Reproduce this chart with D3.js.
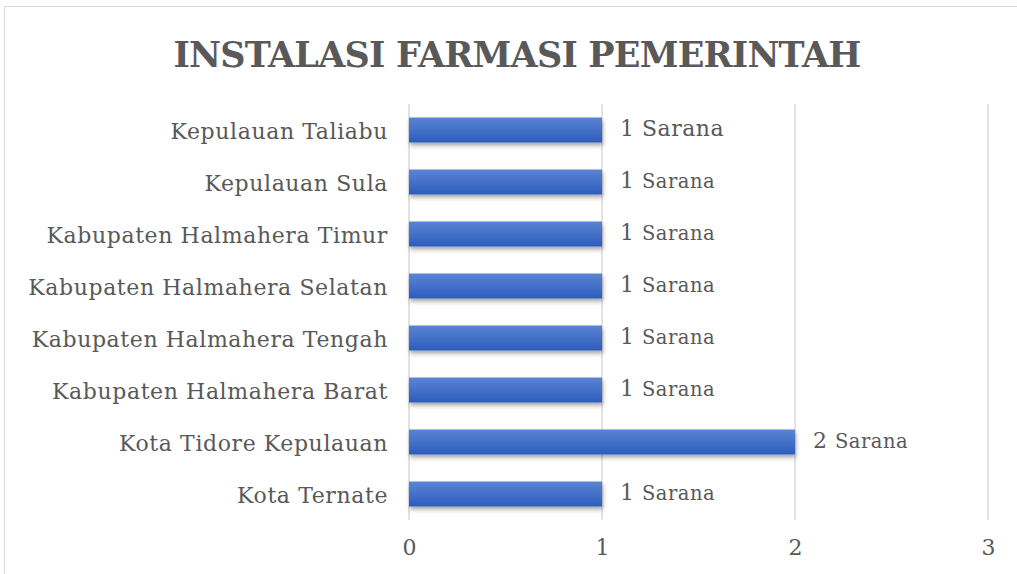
<!DOCTYPE html>
<html><head><meta charset="utf-8">
<script src="https://cdn.jsdelivr.net/npm/d3@7"></script>
<style>body{margin:0;background:#fff}svg{display:block}</style>
</head><body>
<svg id="c" width="1017" height="574"></svg>
<script>
const categories = ["Kepulauan Taliabu","Kepulauan Sula","Kabupaten Halmahera Timur","Kabupaten Halmahera Selatan","Kabupaten Halmahera Tengah","Kabupaten Halmahera Barat","Kota Tidore Kepulauan","Kota Ternate"];
const values = [1,1,1,1,1,1,2,1];
const xTicks = [0,1,2,3];
const unitLabel = "Sarana";
const title = "INSTALASI FARMASI PEMERINTAH";

const svg = d3.select("#c");
const font = "'DejaVu Serif', serif";
const grey = "#595959";

svg.append("rect").attr("x",4.5).attr("y",6.5).attr("width",1030).attr("height",600)
  .attr("fill","#fff").attr("stroke","#d9d9d9").attr("stroke-width",1);

const defs = svg.append("defs");
const g1 = defs.append("linearGradient").attr("id","bg").attr("x1",0).attr("y1",0).attr("x2",0).attr("y2",1);
g1.append("stop").attr("offset","0%").attr("stop-color","#5b84d4");
g1.append("stop").attr("offset","100%").attr("stop-color","#2d5dbd");
const f = defs.append("filter").attr("id","sh").attr("x","-5%").attr("y","-30%").attr("width","115%").attr("height","190%");
f.append("feDropShadow").attr("dx",1).attr("dy",3).attr("stdDeviation",2).attr("flood-color","#000").attr("flood-opacity",0.35);

const x = d3.scaleLinear().domain([0,3]).range([409,988]);
const y = d3.scaleBand().domain(categories).range([104,520]).paddingInner(0.52).paddingOuter(0.26);

svg.append("text").attr("x",517).attr("y",67).attr("text-anchor","middle")
  .attr("font-family",font).attr("font-weight","bold").attr("font-size",35).attr("letter-spacing",-0.8).attr("fill",grey).text(title);

svg.append("g").selectAll("line").data(xTicks).join("line")
  .attr("x1",d=>x(d)).attr("x2",d=>x(d)).attr("y1",104).attr("y2",520)
  .attr("stroke","#d9d9d9").attr("stroke-width",1.5);

const xa = svg.append("g").attr("transform","translate(0,520)").call(d3.axisBottom(x).tickValues(xTicks).tickSize(0).tickPadding(19).tickFormat(d3.format("d")));
xa.select(".domain").remove();
xa.selectAll("text").attr("font-family",font).attr("font-size",22).attr("fill",grey);

const ya = svg.append("g").attr("transform","translate(409,0)").call(d3.axisLeft(y).tickSize(0).tickPadding(21));
ya.select(".domain").remove();
ya.selectAll("text").attr("font-family",font).attr("font-size",22).attr("letter-spacing",0.6).attr("dy","0.4em").attr("fill",grey);

svg.append("g").selectAll("rect").data(categories).join("rect")
  .attr("x",x(0)).attr("y",d=>y(d)).attr("width",(d,i)=>x(values[i])-x(0)).attr("height",y.bandwidth())
  .attr("fill","url(#bg)").attr("filter","url(#sh)");

const lab = svg.append("g").selectAll("text").data(categories).join("text")
  .attr("x",(d,i)=>x(values[i])+18).attr("y",d=>y(d)+y.bandwidth()/2).attr("dy","0.4em")
  .attr("font-family",font).attr("letter-spacing",0.5).attr("fill",grey);
lab.append("tspan").attr("font-size",22).text((d,i)=>values[i]+" ");
lab.append("tspan").attr("font-size",(d,i)=>i===0?22:19.5).text(unitLabel);
</script>
</body></html>
